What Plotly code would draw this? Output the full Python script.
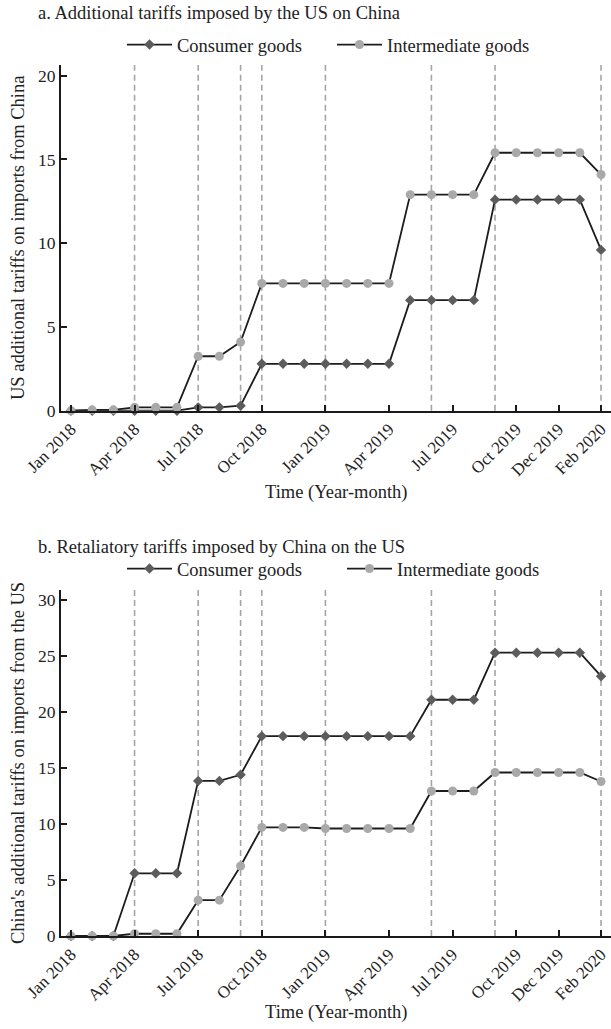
import plotly.graph_objects as go

# Monthly observations, Jan 2018 .. Feb 2020
months = ["Jan 2018", "Feb 2018", "Mar 2018", "Apr 2018", "May 2018", "Jun 2018",
          "Jul 2018", "Aug 2018", "Sep 2018", "Oct 2018", "Nov 2018", "Dec 2018",
          "Jan 2019", "Feb 2019", "Mar 2019", "Apr 2019", "May 2019", "Jun 2019",
          "Jul 2019", "Aug 2019", "Sep 2019", "Oct 2019", "Nov 2019", "Dec 2019",
          "Jan 2020", "Feb 2020"]

# Panel a: US additional tariffs on imports from China (%)
us_consumer = [0, 0, 0, 0, 0, 0, 0.2, 0.2, 0.3, 2.8, 2.8, 2.8, 2.8, 2.8, 2.8, 2.8,
               6.6, 6.6, 6.6, 6.6, 12.6, 12.6, 12.6, 12.6, 12.6, 9.6]
us_intermediate = [0, 0.05, 0.05, 0.2, 0.2, 0.2, 3.25, 3.25, 4.1, 7.6, 7.6, 7.6, 7.6, 7.6, 7.6, 7.6,
                   12.9, 12.9, 12.9, 12.9, 15.4, 15.4, 15.4, 15.4, 15.4, 14.1]

# Panel b: China's retaliatory tariffs on imports from the US (%)
cn_consumer = [0, 0, 0, 5.6, 5.6, 5.6, 13.85, 13.85, 14.4, 17.85, 17.85, 17.85, 17.85, 17.85, 17.85,
               17.85, 17.85, 21.1, 21.1, 21.1, 25.3, 25.3, 25.3, 25.3, 25.3, 23.2]
cn_intermediate = [0, 0, 0, 0.2, 0.2, 0.2, 3.2, 3.2, 6.25, 9.7, 9.7, 9.7, 9.6, 9.6, 9.6, 9.6,
                   9.6, 12.95, 12.95, 12.95, 14.6, 14.6, 14.6, 14.6, 14.6, 13.8]

# Axis ticks and tariff-event months (dashed markers)
tick_months = ["Jan 2018", "Apr 2018", "Jul 2018", "Oct 2018", "Jan 2019", "Apr 2019",
               "Jul 2019", "Oct 2019", "Dec 2019", "Feb 2020"]
event_months = ["Apr 2018", "Jul 2018", "Sep 2018", "Oct 2018", "Jan 2019",
                "Jun 2019", "Sep 2019", "Feb 2020"]

FONT = "Liberation Serif"
TXT = "#222222"
W, H = 611, 1029
idx = list(range(len(months)))
pos = {m: i for i, m in enumerate(months)}

CONS_COLOR = "#5c5c5c"
INT_COLOR = "#a8a9ab"
LINE_COLOR = "#1c1c1c"

fig = go.Figure()


def add_panel(cons, inter, xa, ya, legend):
    fig.add_trace(go.Scatter(
        x=idx, y=cons, name="Consumer goods", mode="lines+markers",
        line=dict(color=LINE_COLOR, width=1.8),
        marker=dict(symbol="diamond", size=8, color=CONS_COLOR),
        xaxis=xa, yaxis=ya, legend=legend, cliponaxis=False))
    fig.add_trace(go.Scatter(
        x=idx, y=inter, name="Intermediate goods", mode="lines+markers",
        line=dict(color=LINE_COLOR, width=1.8),
        marker=dict(symbol="circle", size=9, color=INT_COLOR),
        xaxis=xa, yaxis=ya, legend=legend, cliponaxis=False))
    for m in event_months:
        fig.add_shape(type="line", xref=xa, yref=f"{ya} domain",
                      x0=pos[m], x1=pos[m], y0=0, y1=1, layer="below",
                      line=dict(color="#a5a5a5", width=1.6, dash="6px,4px"))


add_panel(us_consumer, us_intermediate, "x", "y", "legend")
add_panel(cn_consumer, cn_intermediate, "x2", "y2", "legend2")

x_left = 61 / W
xrange = [-0.47, 25.47]


def py(p):
    return 1 - p / H


axis_common = dict(showline=True, linecolor="#1a1a1a", linewidth=1.8,
                   ticks="inside", ticklen=6, tickwidth=1.6, tickcolor="#1a1a1a",
                   showgrid=False, zeroline=False, automargin=False,
                   tickfont=dict(family=FONT, size=17.5, color=TXT))

xaxis_common = dict(axis_common, range=xrange, domain=[x_left, 1],
                    tickmode="array", tickvals=[pos[m] for m in tick_months],
                    ticktext=tick_months, tickangle=-45,
                    tickfont=dict(family=FONT, size=17, color=TXT))

legend_common = dict(orientation="h", xanchor="left", yanchor="middle",
                     itemwidth=45, font=dict(family=FONT, size=18.5, color=TXT),
                     bgcolor="rgba(0,0,0,0)", borderwidth=0, entrywidthmode="pixels")

fig.update_layout(
    width=W, height=H,
    margin=dict(l=0, r=0, t=0, b=0),
    paper_bgcolor="white", plot_bgcolor="white",
    font=dict(family=FONT, color=TXT),
    showlegend=True,
    xaxis=dict(xaxis_common, anchor="y"),
    yaxis=dict(axis_common, range=[0, 20.64], dtick=5, domain=[py(410.7), py(65)], anchor="x"),
    xaxis2=dict(xaxis_common, anchor="y2"),
    yaxis2=dict(axis_common, range=[0, 30.9], dtick=5, domain=[py(936), py(590)], anchor="x2"),
    legend=dict(legend_common, x=122 / W, y=py(45), entrywidth=150),
    legend2=dict(legend_common, x=122 / W, y=py(569), entrywidth=160),
)

annotations = [
    dict(text="a. Additional tariffs imposed by the US on China", x=36 / W, y=py(13), xanchor="left"),
    dict(text="b. Retaliatory tariffs imposed by China on the US", x=36 / W, y=py(547), xanchor="left"),
    dict(text="Time (Year-month)", x=336 / W, y=py(493), xanchor="center"),
    dict(text="Time (Year-month)", x=336 / W, y=py(1012), xanchor="center"),
]
for a in annotations:
    fig.add_annotation(text=a["text"], xref="paper", yref="paper", x=a["x"], y=a["y"],
                       xanchor=a["xanchor"], yanchor="middle", showarrow=False,
                       font=dict(family=FONT, size=18.5, color=TXT))

fig.add_annotation(text="US additional tariffs on imports from China", xref="paper", yref="paper",
                   x=18 / W, y=py(238), textangle=-90, showarrow=False,
                   xanchor="center", yanchor="middle",
                   font=dict(family=FONT, size=18.5, color=TXT))
fig.add_annotation(text="China's additional tariffs on imports from the US", xref="paper", yref="paper",
                   x=18 / W, y=py(763), textangle=-90, showarrow=False,
                   xanchor="center", yanchor="middle",
                   font=dict(family=FONT, size=18.5, color=TXT))

fig.write_html("out.html")
